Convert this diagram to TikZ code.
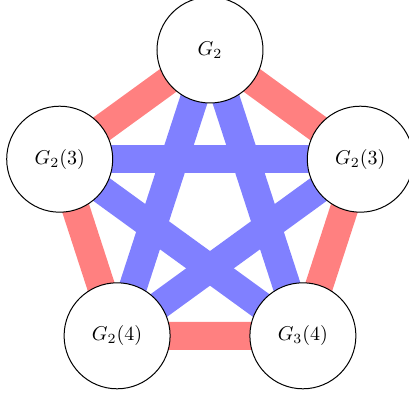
\documentclass[tikz,border=0pt]{standalone}
\begin{document}
\begin{tikzpicture}[x=0.5pt,y=-0.5pt,
  vtx/.style={circle,draw=black,fill=white,line width=0.5pt,minimum size=53pt,inner sep=0pt},
  redge/.style={draw=red!50,line width=14pt},
  bedge/.style={draw=blue!50,line width=14pt}]
\useasboundingbox (0,0) rectangle (409,396);
\clip (0,0) rectangle (409,396);
\path (210,50) coordinate (pt);
\path (59.7,159.2) coordinate (pl);
\path (360.3,159.2) coordinate (pr);
\path (117.1,335.8) coordinate (pbl);
\path (302.9,335.8) coordinate (pbr);
\draw[redge] (pt) -- (pl) -- (pbl) -- (pbr) -- (pr) -- cycle;
\draw[bedge] (pt) -- (pbl);
\draw[bedge] (pt) -- (pbr);
\draw[bedge] (pl) -- (pr);
\draw[bedge] (pl) -- (pbr);
\draw[bedge] (pr) -- (pbl);
\node[vtx] (t) at (pt) {$G_2$};
\node[vtx] (l) at (pl) {$G_2(3)$};
\node[vtx] (r) at (pr) {$G_2(3)$};
\node[vtx] (bl) at (pbl) {$G_2(4)$};
\node[vtx] (br) at (pbr) {$G_3(4)$};
\end{tikzpicture}
\end{document}
